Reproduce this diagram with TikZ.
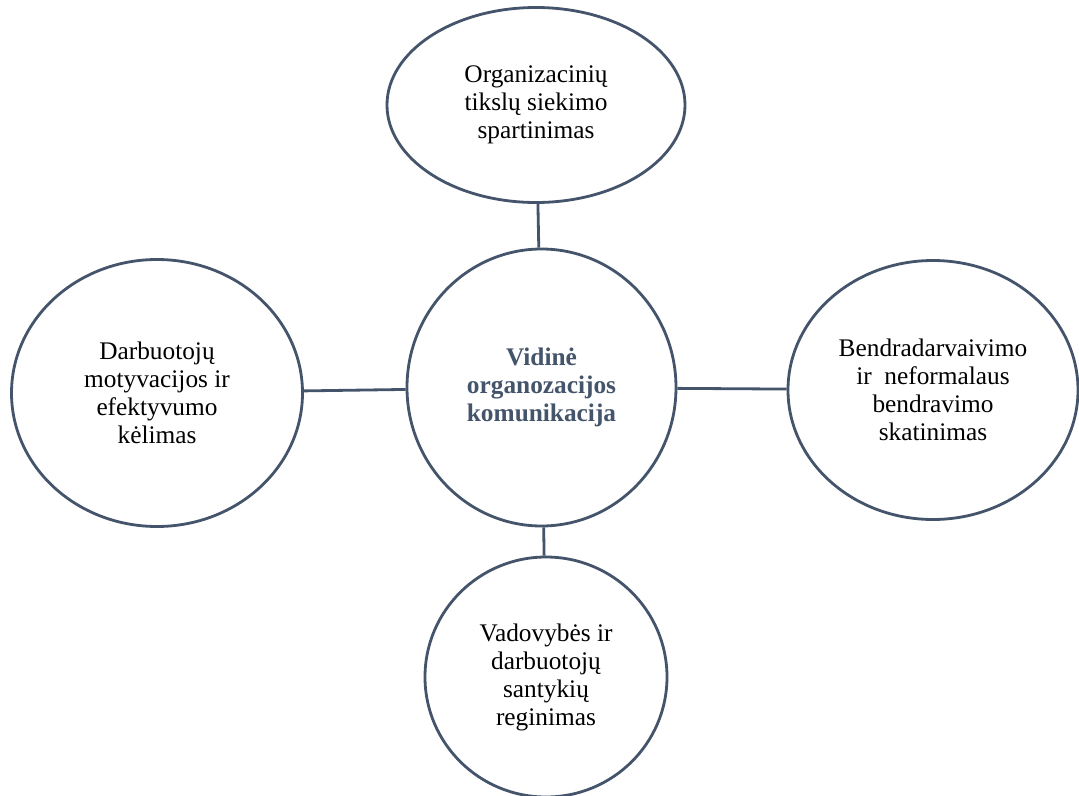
\documentclass[tikz,border=0pt]{standalone}
\usepackage{fontspec}
\setmainfont{Liberation Serif}
\usetikzlibrary{shapes.geometric}
\definecolor{slate}{HTML}{44546A}
\begin{document}
\begin{tikzpicture}[x=0.75pt,y=-0.75pt,
  bubble/.style={ellipse,draw=slate,line width=2.1pt,fill=white,inner sep=0pt,
    align=center,font=\fontsize{19}{21}\selectfont,text=black},
  hub/.style={bubble,font=\fontsize{19}{21}\selectfont\bfseries,text=slate},
  link/.style={draw=slate,line width=2.1pt}]
\useasboundingbox (0,0) rectangle (1079,796);
\fill[white] (0,0) rectangle (1079,796);

% sizes below are the full width and height of each bubble, in pt
\node[hub,minimum width=201.75pt,minimum height=207.75pt] (c) at (541.5,387.5)
  {Vidinė\\organozacijos\\komunikacija};
\node[bubble,minimum width=223.5pt,minimum height=146.25pt] (t) at (536,105)
  {Organizacinių\\tikslų siekimo\\spartinimas};
\node[bubble,minimum width=218.25pt,minimum height=200.25pt] (l) at (157,393)
  {Darbuotojų\\motyvacijos ir\\efektyvumo\\kėlimas};
\node[bubble,minimum width=217.5pt,minimum height=194.25pt] (r) at (933,390)
  {Bendradarvaivimo\\ir\ \ neformalaus\\bendravimo\\skatinimas};
\node[bubble,minimum width=181.5pt,minimum height=180pt] (b) at (546,677)
  {Vadovybės ir\\darbuotojų\\santykių\\reginimas};

\draw[link] (t) -- (c);
\draw[link] (l) -- (c);
\draw[link] (c) -- (r);
\draw[link] (c) -- (b);
\end{tikzpicture}
\end{document}
